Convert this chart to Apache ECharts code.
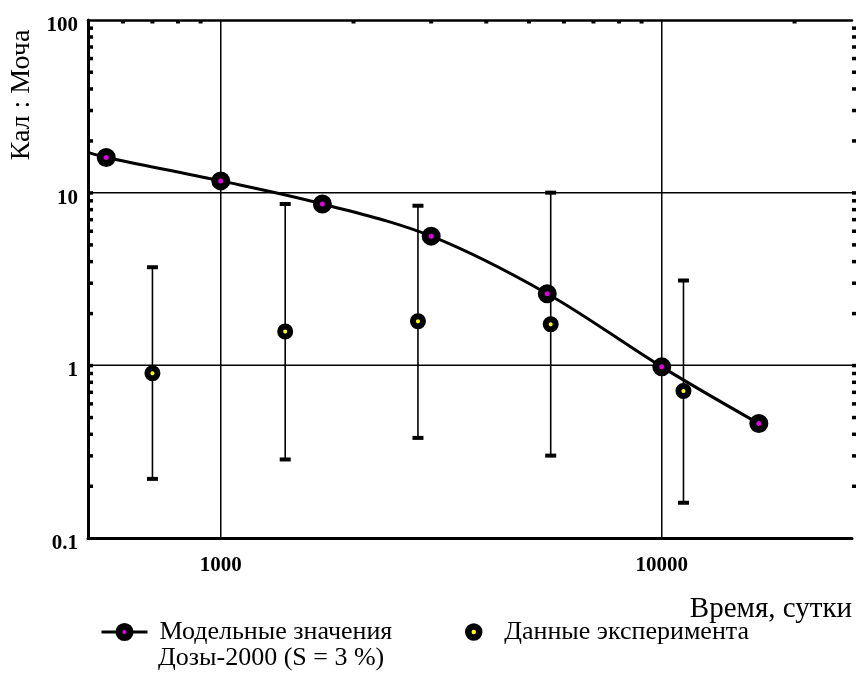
<!DOCTYPE html>
<html>
<head>
<meta charset="utf-8">
<script src="https://cdn.jsdelivr.net/npm/echarts@6/dist/echarts.min.js"></script>
<style>
  html, body { margin: 0; padding: 0; background: #fff; }
  #chart { width: 856px; height: 700px; }
</style>
</head>
<body>
<div id="chart"></div>
<script>
// Model curve (time in days, faeces : urine ratio); the first entry is where the curve enters the plot
const modelTime  = [500, 550, 1000, 1700, 3000, 5500, 10000, 16600];
const modelRatio = [17.1, 16.0, 11.7, 8.6, 5.6, 2.6, 0.98, 0.46];

// Experimental data with their ranges
const expTime  = [700, 1400, 2800, 5600, 11200];
const expRatio = [0.90, 1.57, 1.80, 1.73, 0.71];
const expLow   = [0.22, 0.285, 0.38, 0.30, 0.16];
const expHigh  = [3.7, 8.6, 8.4, 10.0, 3.1];

// Axis ranges, labelled ticks and grid lines
const xRange = [500, 27000];
const yRange = [0.1, 100];
const xTickLabels = [1000, 10000];
const yTickLabels = [0.1, 1, 10, 100];
const xGrid = [1000, 10000];
const yGrid = [1, 10];

const modelName = 'Модельные значения';
const modelName2 = 'Дозы-2000 (S = 3 %)';
const expName = 'Данные эксперимента';

// Log-decade tick positions (1..9 of each decade) strictly inside a range
function decadeTicks(lo, hi) {
  const out = [];
  for (let e = Math.floor(Math.log10(lo)); e <= Math.ceil(Math.log10(hi)); e++) {
    for (let m = 1; m <= 9; m++) {
      const v = m * Math.pow(10, e);
      if (v > lo * 1.0001 && v < hi * 0.9999) out.push(v);
    }
  }
  return out;
}
const topTicks = decadeTicks(xRange[0], xRange[1]).filter(v => xGrid.indexOf(v) < 0);
const sideTicks = decadeTicks(yRange[0], yRange[1]);

const SERIF = '"Liberation Serif", "Times New Roman", serif';

function sameLog(a, b) { return Math.abs(Math.log10(a) - Math.log10(b)) < 1e-6; }

const chart = echarts.init(document.getElementById('chart'), null, { renderer: 'canvas' });

const option = {
  animation: false,
  backgroundColor: '#ffffff',
  grid: { left: 88, top: 20, right: 4, bottom: 162, containLabel: false },
  xAxis: [
    {
      type: 'log', logBase: 10, min: xRange[0], max: xRange[1],
      position: 'bottom',
      axisLine: { show: true, lineStyle: { color: '#000', width: 3 } },
      axisTick: { show: false },
      splitLine: { show: false },
      minorTick: { show: false },
      axisLabel: {
        show: true, margin: 17, color: '#000',
        fontFamily: SERIF, fontWeight: 'bold', fontSize: 21,
        formatter: v => { const t = xTickLabels.find(t => sameLog(t, v)); return t === undefined ? '' : String(t); }
      }
    },
    {
      type: 'log', logBase: 10, min: xRange[0], max: xRange[1],
      position: 'top',
      axisLine: { show: true, lineStyle: { color: '#000', width: 2.5 } },
      axisTick: { show: false }, axisLabel: { show: false }, splitLine: { show: false }
    }
  ],
  yAxis: {
    type: 'log', logBase: 10, min: yRange[0], max: yRange[1],
    axisLine: { show: true, lineStyle: { color: '#000', width: 3 } },
    axisTick: { show: false },
    splitLine: { show: false },
    axisLabel: {
      show: true, margin: 10, color: '#000',
      fontFamily: SERIF, fontWeight: 'bold', fontSize: 21,
      verticalAlign: 'top', lineHeight: 11,
      formatter: v => { const t = yTickLabels.find(t => sameLog(t, v)); return t === undefined ? '' : String(t); }
    }
  },
  legend: [
    {
      data: [modelName],
      left: 100, top: 619, padding: 0,
      itemWidth: 46, itemHeight: 14,
      itemStyle: { borderWidth: 7, borderColor: '#000' },
      lineStyle: { width: 3, color: '#000' },
      textStyle: { fontFamily: SERIF, fontSize: 26, color: '#000', lineHeight: 26, padding: [0, 0, 0, 7] },
      selectedMode: false
    },
    {
      data: [expName],
      left: 465, top: 619, padding: 0,
      itemWidth: 11, itemHeight: 11,
      itemStyle: { borderWidth: 6.5, borderColor: '#000' },
      textStyle: { fontFamily: SERIF, fontSize: 26, color: '#000', lineHeight: 26, padding: [0, 0, 0, 20] },
      selectedMode: false
    }
  ],
  graphic: [
    {
      type: 'text', x: 22, y: 95, rotation: Math.PI / 2,
      style: { text: 'Кал : Моча', font: '28px ' + SERIF, fill: '#000', align: 'center', verticalAlign: 'middle' }
    },
    {
      type: 'text', x: 852, y: 609,
      style: { text: 'Время, сутки', font: '29px ' + SERIF, fill: '#000', align: 'right', verticalAlign: 'middle' }
    },
    {
      // second line of the model legend entry
      type: 'text', x: 158, y: 658,
      style: { text: modelName2, font: '26px ' + SERIF, fill: '#000', align: 'left', verticalAlign: 'middle' }
    }
  ],
  series: [
    {
      // major grid lines at the decades
      type: 'custom', name: 'gridX', silent: true, z: 1,
      data: xGrid.map(v => [v, 1]),
      renderItem: (params, api) => {
        const cs = params.coordSys;
        const p = api.coord([api.value(0), 1]);
        return { type: 'line', shape: { x1: p[0], y1: cs.y, x2: p[0], y2: cs.y + cs.height },
                 style: { stroke: '#000', lineWidth: 1.5 } };
      }
    },
    {
      type: 'custom', name: 'gridY', silent: true, z: 1,
      data: yGrid.map(v => [1000, v]),
      renderItem: (params, api) => {
        const cs = params.coordSys;
        const p = api.coord([1000, api.value(1)]);
        return { type: 'line', shape: { x1: cs.x, y1: p[1], x2: cs.x + cs.width, y2: p[1] },
                 style: { stroke: '#000', lineWidth: 1.5 } };
      }
    },
    {
      // ticks along the top edge
      type: 'custom', name: 'ticksTop', silent: true, z: 3, clip: false,
      data: topTicks.map(v => [v, 1]),
      renderItem: (params, api) => {
        const cs = params.coordSys;
        const p = api.coord([api.value(0), 1]);
        return { type: 'rect', shape: { x: p[0] - 2, y: cs.y, width: 4, height: 3.5 }, style: { fill: '#000' } };
      }
    },
    {
      // ticks along the left and right edges
      type: 'custom', name: 'ticksSide', silent: true, z: 3, clip: false,
      data: sideTicks.map(v => [1000, v]),
      renderItem: (params, api) => {
        const cs = params.coordSys;
        const p = api.coord([1000, api.value(1)]);
        return { type: 'group', children: [
          { type: 'rect', shape: { x: cs.x, y: p[1] - 1.5, width: 5, height: 3.5 }, style: { fill: '#000' } },
          { type: 'rect', shape: { x: cs.x + cs.width, y: p[1] - 1.5, width: 4, height: 3.5 }, style: { fill: '#000' } }
        ] };
      }
    },
    {
      // ranges of the experimental data
      type: 'custom', name: 'errorBars', silent: true, z: 4,
      data: expTime.map((t, i) => [t, expLow[i], expHigh[i]]),
      encode: { x: 0, y: [1, 2] },
      renderItem: (params, api) => {
        const lo = api.coord([api.value(0), api.value(1)]);
        const hi = api.coord([api.value(0), api.value(2)]);
        const cw = 11, ch = 4;
        return { type: 'group', children: [
          { type: 'line', shape: { x1: hi[0], y1: hi[1], x2: lo[0], y2: lo[1] }, style: { stroke: '#000', lineWidth: 1.6 } },
          { type: 'rect', shape: { x: hi[0] - cw / 2, y: hi[1] - ch / 2, width: cw, height: ch }, style: { fill: '#000' } },
          { type: 'rect', shape: { x: lo[0] - cw / 2, y: lo[1] - ch / 2, width: cw, height: ch }, style: { fill: '#000' } }
        ] };
      }
    },
    {
      name: expName, type: 'scatter', z: 5,
      data: expTime.map((t, i) => [t, expRatio[i]]),
      symbol: 'circle', symbolSize: 10,
      itemStyle: { color: '#ffff00', borderColor: '#000', borderWidth: 6, opacity: 1 }
    },
    {
      name: modelName, type: 'line', z: 6,
      data: modelTime.map((t, i) => i === 0
        ? { value: [t, modelRatio[i]], symbolSize: 0, itemStyle: { opacity: 0 } }
        : [t, modelRatio[i]]),
      smooth: 0.35,
      symbol: 'circle', symbolSize: 12, showAllSymbol: true,
      lineStyle: { color: '#000', width: 3 },
      itemStyle: { color: '#e000e0', borderColor: '#000', borderWidth: 7, opacity: 1 }
    }
  ]
};

chart.setOption(option);
</script>
</body>
</html>
